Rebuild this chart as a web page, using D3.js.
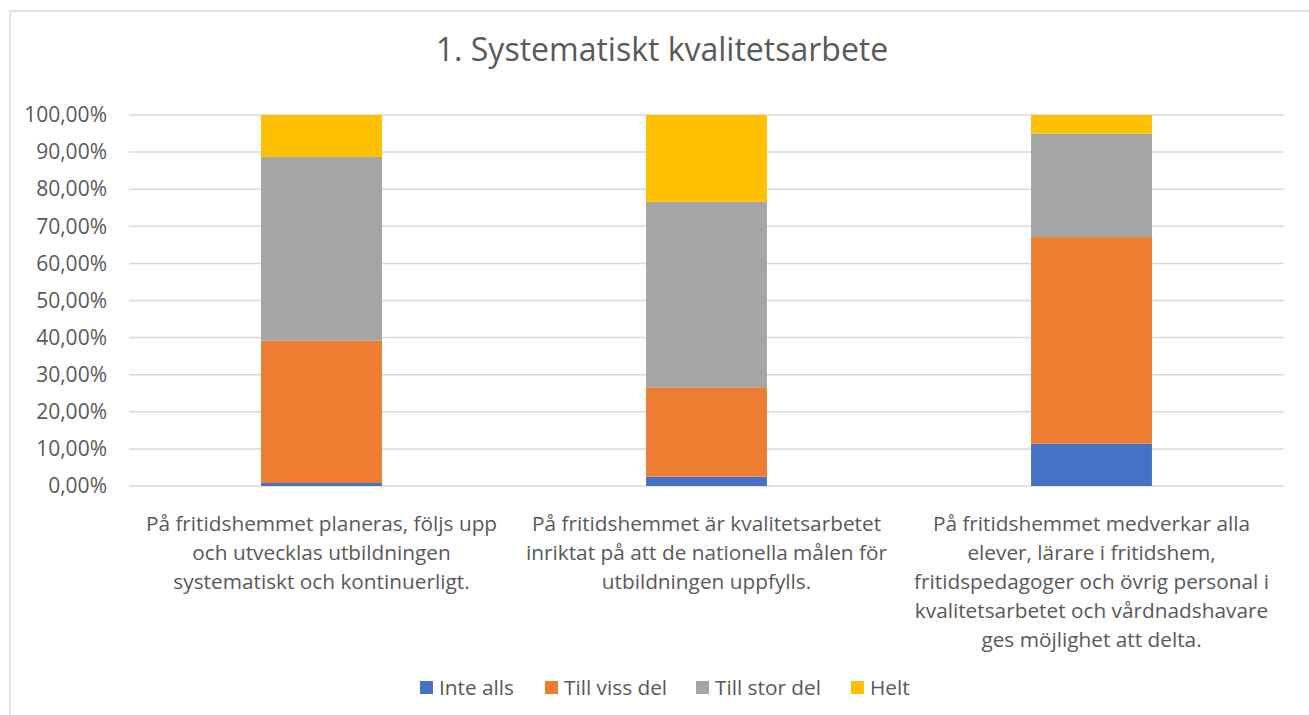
<!DOCTYPE html>
<html>
<head>
<meta charset="utf-8">
<script src="https://cdn.jsdelivr.net/npm/d3@7"></script>
<style>
  html, body { margin: 0; padding: 0; background: #fff; }
  svg { display: block; }
  text { font-family: "Open Sans", "Noto Sans", sans-serif; fill: #595959; }
</style>
</head>
<body>
<svg id="chart" width="1309" height="715"></svg>
<script>
const title = "1. Systematiskt kvalitetsarbete";
const categories = [
  "På fritidshemmet planeras, följs upp\noch utvecklas utbildningen\nsystematiskt och kontinuerligt.",
  "På fritidshemmet är kvalitetsarbetet\ninriktat på att de nationella målen för\nutbildningen uppfylls.",
  "På fritidshemmet medverkar alla\nelever, lärare i fritidshem,\nfritidspedagoger och övrig personal i\nkvalitetsarbetet och vårdnadshavare\nges möjlighet att delta."
];
const seriesNames = ["Inte alls", "Till viss del", "Till stor del", "Helt"];
const inteAlls   = [0.8, 2.5, 11.4];
const tillViss   = [38.4, 24.1, 55.7];
const tillStor   = [49.5, 50.0, 27.9];
const helt       = [11.3, 23.4, 5.0];
const colors = ["#4472C4", "#ED7D31", "#A5A5A5", "#FFC000"];
const yTicks = [0, 10, 20, 30, 40, 50, 60, 70, 80, 90, 100];

const svg = d3.select("#chart");
const W = 1309, H = 715;
const m = { left: 129, right: 1284, top: 115, bottom: 486 };

// border
svg.append("rect").attr("x", 10).attr("y", 11).attr("width", W + 20).attr("height", H + 20)
  .attr("fill", "#fff").attr("stroke", "#d9d9d9").attr("stroke-width", 1.5);

const x = d3.scaleBand().domain(d3.range(categories.length)).range([m.left, m.right])
  .paddingInner(0.686).paddingOuter(0.343);
const y = d3.scaleLinear().domain([0, 100]).range([m.bottom, m.top]);

// gridlines
svg.append("g").selectAll("line").data(yTicks).join("line")
  .attr("x1", m.left).attr("x2", m.right)
  .attr("y1", d => y(d)).attr("y2", d => y(d))
  .attr("stroke", "#d9d9d9").attr("stroke-width", 1.5);

// y axis labels
const yAxis = d3.axisLeft(y).tickValues(yTicks).tickSize(0).tickPadding(0)
  .tickFormat(d => d.toFixed(2).replace(".", ",") + "%");
const gy = svg.append("g").attr("transform", `translate(107,0)`).call(yAxis);
gy.select(".domain").remove();
gy.selectAll("text").attr("font-size", 21).attr("fill", "#595959")
  .style("font-family", '"Open Sans", sans-serif');

// stacked bars
const table = categories.map((c, i) => ({
  i, "Inte alls": inteAlls[i], "Till viss del": tillViss[i], "Till stor del": tillStor[i], "Helt": helt[i]
}));
const stacked = d3.stack().keys(seriesNames)(table);
svg.append("g").selectAll("g").data(stacked).join("g")
  .attr("fill", (d, k) => colors[k])
  .selectAll("rect").data(d => d).join("rect")
  .attr("x", d => x(d.data.i))
  .attr("width", x.bandwidth())
  .attr("y", d => y(d[1]))
  .attr("height", d => y(d[0]) - y(d[1]));

// category labels
const catG = svg.append("g");
categories.forEach((c, i) => {
  const t = catG.append("text")
    .attr("x", x(i) + x.bandwidth() / 2)
    .attr("y", 531)
    .attr("text-anchor", "middle")
    .attr("font-size", 20.8);
  c.split("\n").forEach((line, j) => {
    t.append("tspan").attr("x", x(i) + x.bandwidth() / 2)
      .attr("dy", j === 0 ? 0 : 29).text(line);
  });
});

// title
svg.append("text").attr("x", 662).attr("y", 61).attr("text-anchor", "middle")
  .attr("font-size", 32).text(title);

// legend
const legendX = [420, 545, 696, 851];
const lg = svg.append("g");
seriesNames.forEach((s, k) => {
  lg.append("rect").attr("x", legendX[k]).attr("y", 681).attr("width", 13).attr("height", 13)
    .attr("fill", colors[k]);
  lg.append("text").attr("x", legendX[k] + 19).attr("y", 695)
    .attr("font-size", 20.8).text(s);
});
</script>
</body>
</html>
